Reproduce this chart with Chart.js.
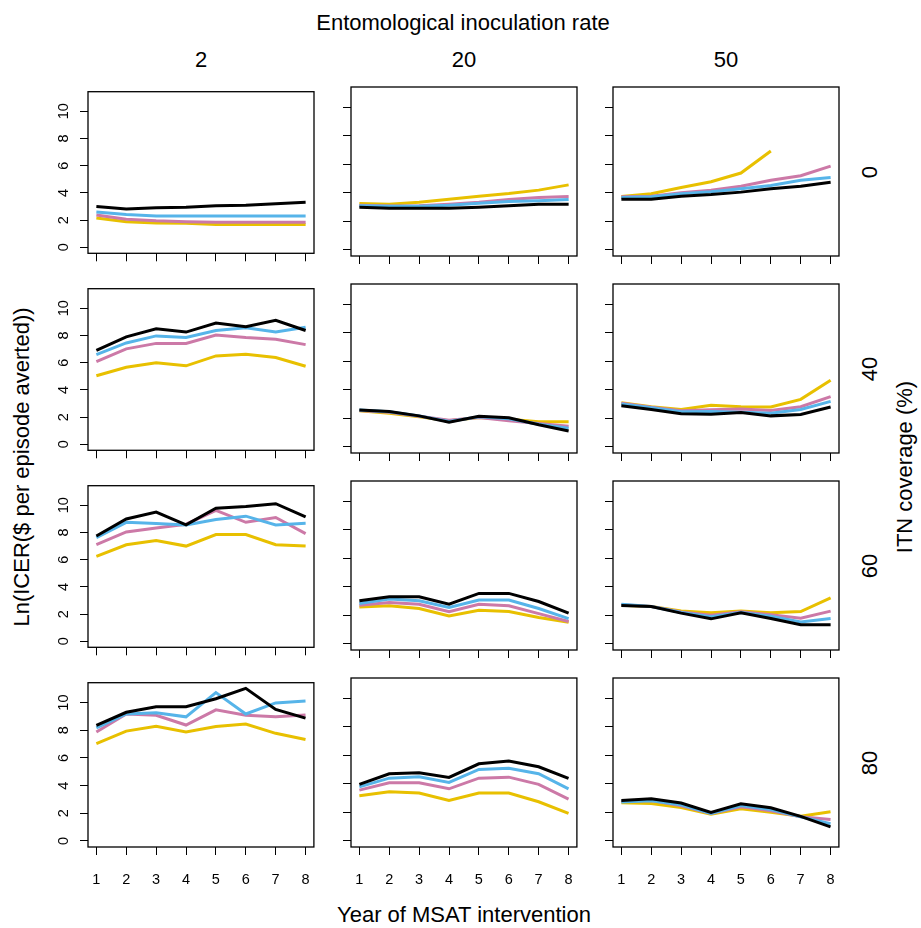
<!DOCTYPE html>
<html>
<head>
<meta charset="utf-8">
<script src="https://cdn.jsdelivr.net/npm/chart.js@4"></script>
<style>
  body { margin: 0; background: #fff; }
  #page { position: relative; width: 921px; height: 928px; font-family: 'Liberation Sans', Arial, Helvetica, sans-serif; color: #000; }
  #page canvas { position: absolute; }
  .lbl { position: absolute; font-size: 22px; white-space: nowrap; transform: translate(-50%, -50%); }
  .rot { transform: translate(-50%, -50%) rotate(-90deg); }
</style>
</head>
<body>
<div id="page"></div>
<script>
// categories
const eirLevels = ['2', '20', '50'];          // columns
const itnLevels = ['0', '40', '60', '80'];    // rows
const years = [1, 2, 3, 4, 5, 6, 7, 8];
const yTicks = [0, 2, 4, 6, 8, 10];

// series values, indexed [row = ITN coverage][column = EIR]
const blackLine = [
    [[3.0, 2.82, 2.9, 2.95, 3.05, 3.1, 3.2, 3.32],
     [2.99, 2.92, 2.92, 2.92, 2.99, 3.1, 3.2, 3.2],
     [3.55, 3.55, 3.76, 3.88, 4.05, 4.28, 4.47, 4.75]],
    [[6.9, 7.9, 8.49, 8.25, 8.91, 8.65, 9.12, 8.37],
     [2.58, 2.48, 2.17, 1.73, 2.15, 2.03, 1.54, 1.11],
     [2.88, 2.62, 2.32, 2.29, 2.41, 2.17, 2.27, 2.79]],
    [[7.74, 8.99, 9.5, 8.56, 9.79, 9.91, 10.12, 9.15],
     [3.02, 3.3, 3.3, 2.78, 3.54, 3.54, 2.97, 2.15],
     [2.69, 2.62, 2.15, 1.75, 2.17, 1.77, 1.34, 1.34]],
    [[8.36, 9.3, 9.7, 9.7, 10.28, 11.03, 9.51, 8.88],
     [3.96, 4.71, 4.78, 4.45, 5.41, 5.6, 5.2, 4.38],
     [2.83, 2.95, 2.65, 1.99, 2.6, 2.32, 1.71, 0.98]]
];
const blueLine = [
    [[2.59, 2.42, 2.3, 2.3, 2.3, 2.3, 2.3, 2.3],
     [3.1, 3.06, 3.06, 3.13, 3.27, 3.39, 3.44, 3.53],
     [3.67, 3.72, 3.93, 4.07, 4.28, 4.52, 4.89, 5.08]],
    [[6.6, 7.45, 7.97, 7.85, 8.37, 8.56, 8.25, 8.6],
     [2.58, 2.46, 2.17, 1.77, 2.1, 1.96, 1.58, 1.3],
     [3.0, 2.74, 2.46, 2.48, 2.43, 2.36, 2.62, 3.19]],
    [[7.62, 8.75, 8.66, 8.56, 8.96, 9.2, 8.56, 8.68],
     [2.83, 3.14, 3.02, 2.55, 3.07, 3.07, 2.48, 1.77],
     [2.78, 2.62, 2.19, 1.89, 2.19, 1.93, 1.53, 1.77]],
    [[8.17, 9.18, 9.27, 8.97, 10.73, 9.18, 9.98, 10.12],
     [3.79, 4.4, 4.5, 4.1, 5.01, 5.1, 4.71, 3.65],
     [2.72, 2.81, 2.53, 1.92, 2.48, 2.2, 1.69, 1.19]]
];
const pinkLine = [
    [[2.38, 2.07, 1.95, 1.88, 1.84, 1.84, 1.84, 1.84],
     [3.13, 3.08, 3.1, 3.2, 3.34, 3.53, 3.67, 3.74],
     [3.72, 3.76, 4.0, 4.19, 4.47, 4.89, 5.2, 5.88]],
    [[6.08, 7.02, 7.42, 7.42, 8.04, 7.85, 7.73, 7.33],
     [2.55, 2.43, 2.15, 1.87, 2.06, 1.82, 1.63, 1.44],
     [3.05, 2.77, 2.53, 2.6, 2.65, 2.55, 2.81, 3.52]],
    [[7.1, 8.04, 8.33, 8.61, 9.62, 8.75, 9.1, 7.92],
     [2.71, 2.9, 2.78, 2.26, 2.78, 2.67, 2.12, 1.56],
     [2.74, 2.62, 2.24, 2.0, 2.24, 2.03, 1.79, 2.29]],
    [[7.87, 9.18, 9.09, 8.38, 9.48, 9.09, 8.97, 9.11],
     [3.56, 4.07, 4.07, 3.65, 4.4, 4.47, 3.96, 2.93],
     [2.76, 2.83, 2.46, 1.92, 2.39, 2.11, 1.69, 1.5]]
];
const yellowLine = [
    [[2.16, 1.88, 1.79, 1.76, 1.67, 1.67, 1.67, 1.67],
     [3.25, 3.2, 3.34, 3.55, 3.76, 3.95, 4.19, 4.56],
     [3.74, 3.93, 4.38, 4.78, 5.39, 6.94, null, null]],
    [[5.04, 5.67, 6.0, 5.77, 6.5, 6.62, 6.38, 5.74],
     [2.53, 2.36, 2.1, 1.82, 2.06, 1.94, 1.75, 1.75],
     [3.1, 2.81, 2.62, 2.91, 2.81, 2.79, 3.33, 4.68]],
    [[6.25, 7.1, 7.41, 7.0, 7.85, 7.85, 7.1, 7.0],
     [2.59, 2.67, 2.48, 1.96, 2.36, 2.26, 1.84, 1.51],
     [2.71, 2.62, 2.31, 2.17, 2.31, 2.17, 2.26, 3.23]],
    [[7.03, 7.94, 8.29, 7.87, 8.27, 8.45, 7.78, 7.33],
     [3.16, 3.44, 3.35, 2.83, 3.35, 3.35, 2.74, 1.92],
     [2.67, 2.62, 2.34, 1.87, 2.25, 2.01, 1.73, 2.04]]
];

const FONT = "'Liberation Sans', Arial, Helvetica, sans-serif";
const page = document.getElementById('page');

// panel geometry (plot box)
const colLeft = [88, 351, 613];
const rowTop = [87, 284, 481, 678];
const boxW = 226, boxH = 169;

// draws the full frame round the plot area, like R's box()
const boxPlugin = {
    id: 'box',
    afterDatasetsDraw(chart) {
        const a = chart.chartArea;
        const ctx = chart.ctx;
        ctx.save();
        ctx.strokeStyle = '#000';
        ctx.lineWidth = 1.3;
        ctx.strokeRect(a.left, a.top, a.right - a.left, a.bottom - a.top);
        ctx.restore();
    }
};

function toPoints(vals) {
    return years.map((yr, i) => ({ x: yr, y: vals[i] }));
}

function makePanel(row, col) {
    const L = col === 0 ? 50 : 14;
    const B = row === 3 ? 50 : 14;
    const T = 12, R = 12;

    const canvas = document.createElement('canvas');
    canvas.width = boxW + L + R;
    canvas.height = boxH + T + B;
    canvas.style.left = (colLeft[col] - L) + 'px';
    canvas.style.top = (rowTop[row] - T) + 'px';
    page.appendChild(canvas);

    const series = [
        { vals: blackLine[row][col], color: '#000000' },
        { vals: blueLine[row][col], color: '#56B4E9' },
        { vals: pinkLine[row][col], color: '#CC79A7' },
        { vals: yellowLine[row][col], color: '#E8C000' }
    ];

    new Chart(canvas, {
        type: 'line',
        data: {
            datasets: series.map(s => ({
                data: toPoints(s.vals),
                borderColor: s.color,
                borderWidth: 3,
                pointRadius: 0,
                tension: 0,
                fill: false,
                spanGaps: false
            }))
        },
        options: {
            responsive: false,
            animation: false,
            devicePixelRatio: 1,
            layout: { padding: { top: T, right: R, left: 0, bottom: 0 } },
            plugins: { legend: { display: false }, tooltip: { enabled: false } },
            scales: {
                x: {
                    type: 'linear',
                    min: 0.72,
                    max: 8.28,
                    afterBuildTicks: scale => { scale.ticks = years.map(v => ({ value: v })); },
                    afterFit: scale => { scale.height = B; },
                    grid: { drawOnChartArea: false, drawTicks: true, tickLength: 8, color: '#000', lineWidth: 1 },
                    border: { display: false },
                    ticks: {
                        display: row === 3,
                        padding: 16,
                        color: '#000',
                        font: { family: FONT, size: 14.5 },
                        maxRotation: 0,
                        callback: v => String(v)
                    }
                },
                y: {
                    type: 'linear',
                    min: -0.44,
                    max: 11.44,
                    afterBuildTicks: scale => { scale.ticks = yTicks.map(v => ({ value: v })); },
                    afterFit: scale => { scale.width = L; },
                    grid: { drawOnChartArea: false, drawTicks: true, tickLength: 8, color: '#000', lineWidth: 1 },
                    border: { display: false },
                    ticks: {
                        display: col === 0,
                        minRotation: 90,
                        maxRotation: 90,
                        crossAlign: 'center',
                        padding: 8,
                        color: '#000',
                        font: { family: FONT, size: 14.5 },
                        callback: v => String(v)
                    }
                }
            }
        },
        plugins: [boxPlugin]
    });
}

itnLevels.forEach((_, row) => {
    eirLevels.forEach((_, col) => makePanel(row, col));
});

// text around the grid
function addLabel(text, x, y, rotated) {
    const d = document.createElement('div');
    d.className = rotated ? 'lbl rot' : 'lbl';
    d.textContent = text;
    d.style.left = x + 'px';
    d.style.top = y + 'px';
    page.appendChild(d);
}

addLabel('Entomological inoculation rate', 463, 23, false);
eirLevels.forEach((lab, col) => addLabel(lab, colLeft[col] + boxW / 2, 60, false));
itnLevels.forEach((lab, row) => addLabel(lab, 870, rowTop[row] + boxH / 2, true));
addLabel('ITN coverage (%)', 905, 467, true);
addLabel('Ln(ICER($ per episode averted))', 22, 467, true);
addLabel('Year of MSAT intervention', 464, 915, false);
</script>
</body>
</html>
